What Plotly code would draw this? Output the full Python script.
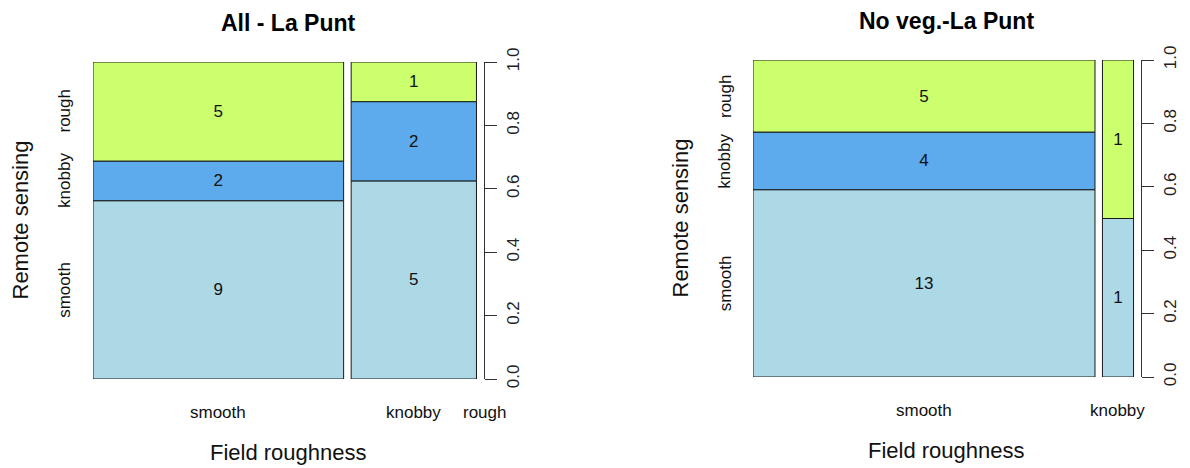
import plotly.graph_objects as go

# Cross-tabulated counts: rows = field roughness, columns = remote sensing class
field_levels = ["smooth", "knobby", "rough"]
rs_levels = ["smooth", "knobby", "rough"]

counts_all = [
    [9, 2, 5],   # field smooth
    [5, 2, 1],   # field knobby
    [0, 0, 0],   # field rough
]
counts_noveg = [
    [13, 4, 5],  # field smooth
    [1, 0, 1],   # field knobby
    [0, 0, 0],   # field rough
]

titles = ["All - La Punt", "No veg.-La Punt"]
x_labels_shown = [["smooth", "knobby", "rough"], ["smooth", "knobby"]]
y_ticks = [0.0, 0.2, 0.4, 0.6, 0.8, 1.0]

fill_colors = {"smooth": "#ADD8E6", "knobby": "#5DAAEC", "rough": "#CCFF6D"}
FONT = "Liberation Sans, Arial, sans-serif"
W, H = 1190, 468
OFF = 0.02  # gap between spines, as a share of the total width

# pixel boxes of the two plot regions (left, right, top, bottom)
panels = [(93, 484, 62, 379), (753, 1141, 60, 377)]


def px_x(p):
    return p / W


def px_y(p):
    return 1 - p / H


fig = go.Figure()
layout = dict(
    width=W, height=H,
    margin=dict(l=0, r=0, t=0, b=0, autoexpand=False),
    paper_bgcolor="white", plot_bgcolor="white",
    showlegend=False, barmode="overlay",
    font=dict(family=FONT, color="#1a1a1a"),
)
annotations = []

for i, (counts, (xl, xr, yt, yb)) in enumerate(zip([counts_all, counts_noveg], panels)):
    n = i + 1
    xa = "x" if n == 1 else f"x{n}"
    ya = "y" if n == 1 else f"y{n}"
    grand = sum(sum(r) for r in counts)
    totals = [sum(r) for r in counts]
    widths = [t / grand for t in totals]
    starts, pos = [], 0.0
    for w in widths:
        starts.append(pos)
        pos += w + OFF
    x_max = 1 + OFF * (len(field_levels) - 1)
    centers = [s + w / 2 for s, w in zip(starts, widths)]

    # stacked conditional proportions within each field class
    bases = [0.0] * len(field_levels)
    for j, lev in enumerate(rs_levels):
        xs, ws, ys, bs, txt = [], [], [], [], []
        for k in range(len(field_levels)):
            if totals[k] == 0:
                continue
            p = counts[k][j] / totals[k]
            xs.append(centers[k]); ws.append(widths[k])
            ys.append(p); bs.append(bases[k])
            txt.append(str(counts[k][j]) if counts[k][j] > 0 else "")
            bases[k] += p
        fig.add_trace(go.Bar(
            x=xs, y=ys, base=bs, width=ws, xaxis=xa, yaxis=ya,
            marker=dict(color=fill_colors[lev], line=dict(color="#1a1a1a", width=1)),
            text=txt, textposition="inside", insidetextanchor="middle",
            textangle=0, constraintext="none",
            textfont=dict(size=17, color="#111", family=FONT),
            hoverinfo="skip",
        ))

    layout["xaxis" if n == 1 else f"xaxis{n}"] = dict(
        domain=[px_x(xl), px_x(xr)], range=[0, x_max], anchor=ya,
        showticklabels=False, showgrid=False, zeroline=False, showline=False, ticks="",
    )
    layout["yaxis" if n == 1 else f"yaxis{n}"] = dict(
        domain=[px_y(yb), px_y(yt)], range=[0, 1], anchor=xa, side="right",
        tickvals=y_ticks, ticktext=[f"{v:.1f}" for v in y_ticks],
        ticks="outside", ticklen=12, tickcolor="#333", tickwidth=1,
        showline=True, linecolor="#333", linewidth=1,
        tickangle=-90, tickfont=dict(size=17, color="#222", family=FONT),
        ticklabelstandoff=2,
        showgrid=False, zeroline=False,
    )

    # field-roughness labels under the spines
    for k, lev in enumerate(field_levels):
        if lev not in x_labels_shown[i]:
            continue
        annotations.append(dict(
            x=centers[k], xref=xa, y=px_y(yb + 33), yref="paper",
            text=lev, showarrow=False, xanchor="center", yanchor="middle",
            font=dict(size=17, color="#111", family=FONT),
        ))

    # remote-sensing labels beside the first spine
    cum = 0.0
    for j, lev in enumerate(rs_levels):
        p = counts[0][j] / totals[0]
        annotations.append(dict(
            x=px_x(xl - 28), xref="paper", y=cum + p / 2, yref=ya,
            text=lev, showarrow=False, textangle=-90,
            xanchor="center", yanchor="middle",
            font=dict(size=17, color="#111", family=FONT),
        ))
        cum += p

    mid_x = px_x((xl + xr) / 2)
    annotations.append(dict(
        x=mid_x, xref="paper", y=px_y(yt - 39), yref="paper",
        text=f"<b>{titles[i]}</b>", showarrow=False, xanchor="center", yanchor="middle",
        font=dict(size=23, color="#000", family=FONT),
    ))
    annotations.append(dict(
        x=mid_x, xref="paper", y=px_y(yb + 73), yref="paper",
        text="Field roughness", showarrow=False, xanchor="center", yanchor="middle",
        font=dict(size=22, color="#111", family=FONT),
    ))
    annotations.append(dict(
        x=px_x(xl - 73), xref="paper", y=px_y((yt + yb) / 2), yref="paper",
        text="Remote sensing", showarrow=False, textangle=-90,
        xanchor="center", yanchor="middle",
        font=dict(size=22, color="#111", family=FONT),
    ))

layout["annotations"] = annotations
fig.update_layout(**layout)
fig.write_html("out.html")
